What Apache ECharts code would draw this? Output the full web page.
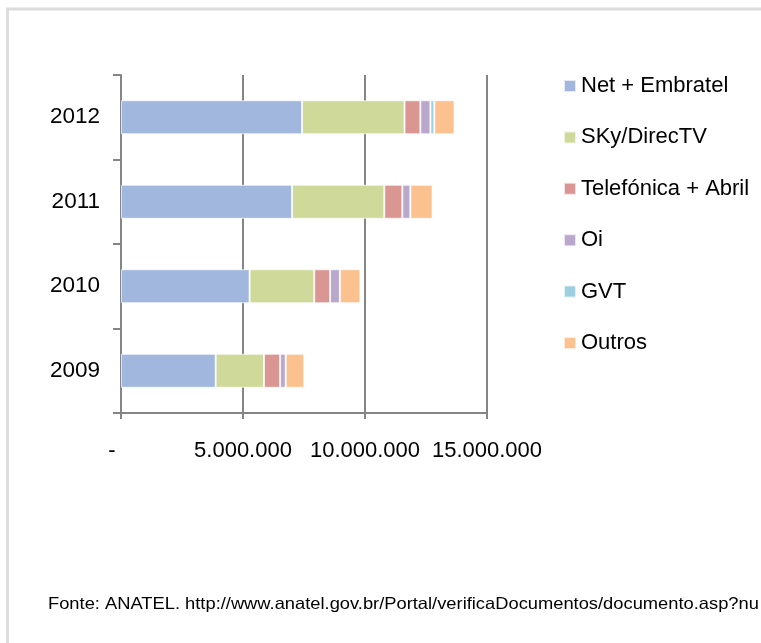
<!DOCTYPE html>
<html>
<head>
<meta charset="utf-8">
<title>TV por assinatura - assinantes por grupo</title>
<script src="https://cdn.jsdelivr.net/npm/echarts@6/dist/echarts.min.js"></script>
<style>
  html, body { margin: 0; padding: 0; background: #fff; }
  #chart { width: 761px; height: 643px; }
</style>
</head>
<body>
<div id="chart"></div>
<script>
// anos (de baixo para cima no eixo)
var years = ['2009', '2010', '2011', '2012'];

// assinantes por grupo
var netEmbratel = [3880000, 5270000, 7010000, 7420000];
var skyDirecTV  = [1980000, 2650000, 3780000, 4200000];
var telefonica  = [660000, 650000, 740000, 650000];
var oi          = [230000, 400000, 330000, 410000];
var gvt         = [0, 0, 0, 160000];
var outros      = [760000, 840000, 910000, 830000];

var seriesNames = ['Net + Embratel', 'SKy/DirecTV', 'Telefónica + Abril', 'Oi', 'GVT', 'Outros'];
var seriesColors = ['#A1B7DE', '#CFD999', '#DA9693', '#B9A7CC', '#9DD0DF', '#FBC28F'];
var seriesData = [netEmbratel, skyDirecTV, telefonica, oi, gvt, outros];

var xTicks = ['-', '5.000.000', '10.000.000', '15.000.000'];
var fonte = 'Fonte: ANATEL. http://www.anatel.gov.br/Portal/verificaDocumentos/documento.asp?nu';

var FONT = '"Liberation Sans", Arial, sans-serif';
var GRAY = '#858585';

var chart = echarts.init(document.getElementById('chart'), null, { renderer: 'canvas' });

var series = [];
for (var i = 0; i < seriesNames.length; i++) {
    series.push({
        name: seriesNames[i],
        type: 'bar',
        stack: 'total',
        barWidth: 34,
        data: seriesData[i],
        itemStyle: {
            color: seriesColors[i],
            borderColor: 'rgba(255,255,255,0.7)',
            borderWidth: 1
        }
    });
}

var option = {
    animation: false,
    backgroundColor: '#fff',
    textStyle: { fontFamily: FONT },
    grid: { left: 121, right: 274, top: 75, bottom: 230, containLabel: false },
    legend: {
        orient: 'vertical',
        left: 558,
        top: 70,
        icon: 'rect',
        itemWidth: 12,
        itemHeight: 12,
        itemGap: 29.4,
        data: seriesNames,
        textStyle: { fontFamily: FONT, fontSize: 22, lineHeight: 22, color: '#000' }
    },
    xAxis: {
        type: 'value',
        min: 0,
        max: 15000000,
        interval: 5000000,
        axisLine: { show: true, lineStyle: { color: GRAY, width: 2 } },
        axisTick: { show: true, length: 6, lineStyle: { color: GRAY, width: 2 } },
        splitLine: { show: true, lineStyle: { color: GRAY, width: 2 } },
        axisLabel: {
            margin: 27,
            fontFamily: FONT,
            fontSize: 22,
            color: '#000',
            formatter: function (v) {
                var idx = Math.round(v / 5000000);
                if (idx === 0) return '{d|' + xTicks[0] + '}';
                return xTicks[idx];
            },
            rich: {
                d: { fontFamily: FONT, fontSize: 22, color: '#000', padding: [0, 18, 0, 0] }
            }
        }
    },
    yAxis: {
        type: 'category',
        data: years,
        axisLine: { show: true, lineStyle: { color: GRAY, width: 2 } },
        axisTick: { show: true, length: 8, lineStyle: { color: GRAY, width: 2 } },
        axisLabel: { margin: 21, fontFamily: FONT, fontSize: 22.5, color: '#000' }
    },
    graphic: [
        {
            type: 'rect',
            silent: true,
            shape: { x: 7.5, y: 9, width: 800, height: 700 },
            style: { fill: 'none', stroke: '#dcdcdc', lineWidth: 3 }
        },
        {
            // fonte: texto cortado na borda direita, como no original
            type: 'text',
            silent: true,
            x: 48,
            y: 604,
            scaleX: 1.11,
            style: {
                text: fonte,
                fontFamily: FONT,
                fontSize: 16.5,
                fill: '#000',
                verticalAlign: 'middle'
            }
        }
    ],
    series: series
};

chart.setOption(option);
</script>
</body>
</html>
